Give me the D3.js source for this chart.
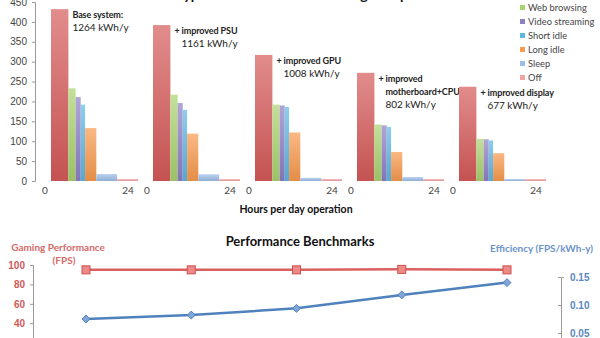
<!DOCTYPE html>
<html>
<head>
<meta charset="UTF-8">
<script src="https://d3js.org/d3.v7.min.js"></script>
<style>
body { margin: 0; background: #fff; }
svg { display: block; font-family: Lato, "Open Sans", sans-serif; }
</style>
</head>
<body>
<svg id="chart" width="600" height="338"></svg>
<script>
// configuraciones del PC, de la base a la más eficiente
var configs = ["base", "psu", "gpu", "mobo", "display"];
var notes = [
  ["Base system:", "1264 kWh/y"],
  ["+ improved PSU", "1161 kWh/y"],
  ["+ improved GPU", "1008 kWh/y"],
  ["+ improved", "motherboard+CPU", "802 kWh/y"],
  ["+ improved display", "677 kWh/y"]
];

// modos de uso y horas al día en cada uno
var modes = ["Gaming", "Web browsing", "Video streaming", "Short idle", "Long idle", "Sleep", "Off"];
var hours = [4.8, 2, 1.4, 1.2, 3.1, 5.75, 5.75];

// potencia (W) por modo, una lista por configuración
var watts = [
  [432, 233, 211, 192, 133, 17.5, 5],
  [392, 217, 196, 179, 119, 17, 5],
  [317, 192, 190, 186, 122, 8, 5],
  [272, 142, 140, 136, 73, 10, 5],
  [237, 106, 105, 102, 70, 5, 5]
];
var wattTicks = d3.range(0, 451, 50);

// benchmarks
var fps = [95, 95, 95, 95.5, 95];
var efficiency = [0.075, 0.082, 0.094, 0.118, 0.140];
var fpsTicks = [0, 20, 40, 60, 80, 100];
var effTicks = [0, 0.05, 0.10, 0.15];

var colors = ["#d65b5a", "#a9d36d", "#8f7fc6", "#5db8e5", "#f89a4e", "#9cbde9", "#f2a3a3"];

var svg = d3.select("#chart");
var defs = svg.append("defs");

// degradado vertical tipo Excel para cada color
colors.forEach(function(c, i) {
  var g = defs.append("linearGradient").attr("id", "grad" + i)
    .attr("x1", 0).attr("y1", 0).attr("x2", 0).attr("y2", 1);
  g.append("stop").attr("offset", "0%").attr("stop-color", d3.interpolateRgb(c, "#fff")(0.3));
  g.append("stop").attr("offset", "100%").attr("stop-color", d3.color(c).darker(0.25));
});

// ---------- gráfico de consumo ----------
var y = d3.scaleLinear().domain([0, 450]).range([181, 2]);

var panel = d3.scaleBand().domain(configs).range([51, 546]).paddingInner(15 / 102);
var hx = d3.scaleLinear().domain([0, 24]).range([0, panel.bandwidth()]);
var ends = d3.cumsum(hours);

svg.append("g")
  .attr("transform", "translate(35,0)")
  .call(d3.axisLeft(y).tickValues(wattTicks).tickSize(3).tickPadding(5))
  .call(g => g.select(".domain").attr("stroke", "#999"))
  .call(g => g.selectAll(".tick line").attr("stroke", "#999"))
  .call(g => g.selectAll("text").attr("fill", "#444").style("font-size", "10px"));

configs.forEach(function(cfg, p) {
  var gp = svg.append("g").attr("transform", "translate(" + panel(cfg) + ",0)");

  gp.selectAll("rect")
    .data(watts[p])
    .enter().append("rect")
    .attr("x", (d, i) => hx(ends[i] - hours[i]))
    .attr("width", (d, i) => hx(hours[i]))
    .attr("y", d => y(d))
    .attr("height", d => y(0) - y(d))
    .attr("fill", (d, i) => "url(#grad" + i + ")");

  // etiquetas 0 y 24 del eje de horas
  gp.append("text").attr("x", hx(0) - 6).attr("y", 194)
    .attr("text-anchor", "middle").attr("fill", "#444").style("font-size", "10px").text("0");
  gp.append("text").attr("x", hx(24) - 10).attr("y", 194)
    .attr("text-anchor", "middle").attr("fill", "#444").style("font-size", "10px").text("24");

  // nota con el consumo anual
  var t = gp.append("text")
    .attr("x", hx(hours[0]) + 4)
    .attr("y", y(watts[p][0]) + 9)
    .attr("fill", "#222");
  var plus = notes[p][0].charAt(0) === "+";
  notes[p].forEach(function(line, k) {
    var bold = k < notes[p].length - 1;
    t.append("tspan")
      .attr("x", hx(hours[0]) + 4 + (k > 0 && plus ? 7 : 0))
      .attr("dy", k === 0 ? 0 : 13)
      .style("font-weight", bold ? "bold" : "normal")
      .style("font-size", bold ? "9px" : "10px")
      .style("letter-spacing", bold ? "-0.1px" : "0")
      .text(line);
  });
});

svg.append("text").attr("x", 296).attr("y", 213).attr("text-anchor", "middle")
  .style("font-size", "10.5px").style("font-weight", "bold").attr("fill", "#111")
  .text("Hours per day operation");

// título superior (queda casi fuera del área visible)
svg.append("text").attr("x", 305).attr("y", 0).attr("text-anchor", "middle")
  .style("font-size", "14px").style("font-weight", "bold").attr("fill", "#111")
  .text("Typical Power Use of a Gaming Computer");

// leyenda
var legend = svg.append("g").attr("transform", "translate(520,-6)");
var items = legend.selectAll("g").data(modes).enter().append("g")
  .attr("transform", (d, i) => "translate(0," + i * 14 + ")");
items.append("rect").attr("x", 0).attr("y", -3).attr("width", 5).attr("height", 5)
  .attr("fill", (d, i) => colors[i]);
items.append("text").attr("x", 8).attr("y", 0).attr("dy", "0.35em")
  .style("font-size", "9.3px").attr("fill", "#444").text(d => d);

// ---------- benchmarks ----------
var red = "#cf4f4c", blue = "#4f81bd";
var bx = d3.scalePoint().domain(configs).range([86, 507]);
var yF = d3.scaleLinear().domain([0, 100]).range([362, 265]);
var yE = d3.scaleLinear().domain([0, 0.15]).range([361, 277]);

svg.append("text").attr("x", 300).attr("y", 246).attr("text-anchor", "middle")
  .style("font-size", "13px").style("font-weight", "bold").attr("fill", "#111")
  .text("Performance Benchmarks");

var lt = svg.append("text").attr("fill", "#d46a68").style("font-size", "10px").style("font-weight", "bold");
lt.append("tspan").attr("x", 58).attr("y", 251).attr("text-anchor", "middle").text("Gaming Performance");
lt.append("tspan").attr("x", 64).attr("y", 264).attr("text-anchor", "middle").text("(FPS)");

svg.append("text").attr("x", 593).attr("y", 252).attr("text-anchor", "end")
  .attr("fill", "#6b93c8").style("font-size", "10px").style("font-weight", "bold")
  .text("Efficiency (FPS/kWh-y)");

svg.append("g").attr("transform", "translate(33,0)")
  .call(d3.axisLeft(yF).tickValues(fpsTicks).tickSize(3).tickPadding(5))
  .call(g => g.select(".domain").attr("stroke", "#999"))
  .call(g => g.selectAll(".tick line").attr("stroke", "#999"))
  .call(g => g.selectAll("text").attr("fill", "#d05a58").style("font-size", "10px").style("font-weight", "bold"));

svg.append("g").attr("transform", "translate(561,0)")
  .call(d3.axisRight(yE).tickValues(effTicks).tickFormat(d3.format(".2f")).tickSize(3).tickPadding(6))
  .call(g => g.select(".domain").attr("stroke", "#999"))
  .call(g => g.selectAll(".tick line").attr("stroke", "#999").attr("x1", -3).attr("x2", 0))
  .call(g => g.selectAll("text").attr("fill", "#5a86c0").style("font-size", "10px").style("font-weight", "bold"));

var lineF = d3.line().x((d, i) => bx(configs[i])).y(d => yF(d));
var lineE = d3.line().x((d, i) => bx(configs[i])).y(d => yE(d));

svg.append("path").datum(fps).attr("d", lineF)
  .attr("fill", "none").attr("stroke", "#d9605d").attr("stroke-width", 2.5);
svg.append("path").datum(efficiency).attr("d", lineE)
  .attr("fill", "none").attr("stroke", blue).attr("stroke-width", 2.5);

svg.selectAll(".sq").data(fps).enter().append("rect").attr("class", "sq")
  .attr("x", (d, i) => bx(configs[i]) - 4).attr("y", d => yF(d) - 4)
  .attr("width", 8).attr("height", 8)
  .attr("fill", "#ec8a88").attr("stroke", red).attr("stroke-width", 1);

svg.selectAll(".dm").data(efficiency).enter().append("path").attr("class", "dm")
  .attr("d", d3.symbol(d3.symbolDiamond2, 40))
  .attr("transform", (d, i) => "translate(" + bx(configs[i]) + "," + yE(d) + ")")
  .attr("fill", "#7fa6d6").attr("stroke", blue).attr("stroke-width", 1);
</script>
</body>
</html>
